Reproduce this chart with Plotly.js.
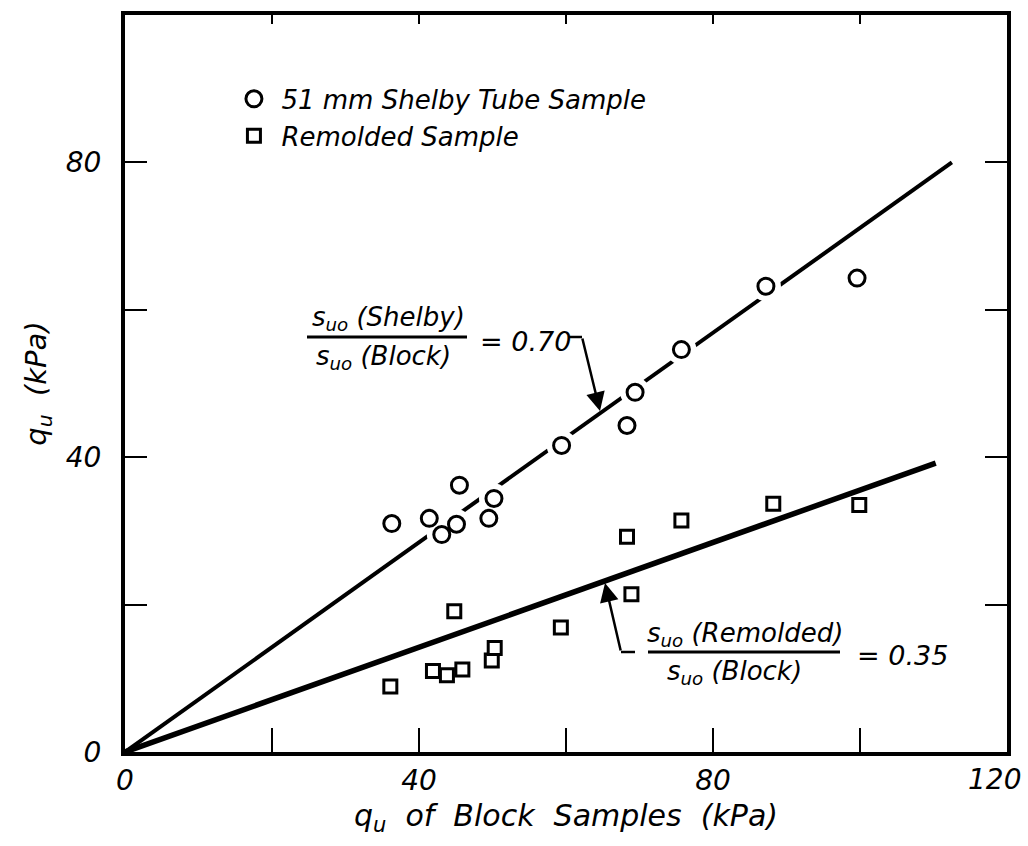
<!DOCTYPE html>
<html>
<head>
<meta charset="utf-8">
<script src="https://cdn.plot.ly/plotly-3.0.1.min.js"></script>
<style>html,body{margin:0;padding:0;background:#fff;}#chart{width:1028px;height:846px;}</style>
</head>
<body>
<div id="chart"></div>
<script>
// ---- data ----
const shelbyX = [36.3, 41.4, 45.5, 43.1, 45.1, 50.2, 49.5, 59.4, 69.4, 68.3, 75.7, 87.2, 99.6];
const shelbyY = [31.0, 31.7, 36.2, 29.5, 30.9, 34.4, 31.7, 41.6, 48.8, 44.3, 54.6, 63.2, 64.3];
const remoldX = [36.1, 44.8, 41.9, 43.8, 45.9, 49.9, 50.3, 59.3, 68.3, 75.7, 68.9, 88.2, 99.9];
const remoldY = [8.9, 19.1, 11.0, 10.4, 11.2, 12.4, 14.1, 16.9, 29.2, 31.4, 21.4, 33.7, 33.5];
const shelbyFitX = [0, 112.5];
const shelbyFitY = [0, 80];
const remoldFitX = [0, 110.3];
const remoldFitY = [0, 39.2];
const xTickVals = [0, 20, 40, 60, 80, 100, 120];
const xTickText = ['0', '', '40', '', '80', '', ''];
const xEndLabel = '120'; // drawn as an annotation so it is not cut off at the page edge
const yTickVals = [0, 20, 40, 60, 80, 100];
const yTickText = ['0', '', '40', '', '80', ''];
const legendNames = ['51 mm Shelby Tube Sample', 'Remolded Sample'];

// ---- layout helpers (pixel -> data for annotation placement) ----
const W = 1028, H = 846, ML = 125, MR = 21, MT = 15, MB = 94;
const PW = W - ML - MR, PH = H - MT - MB;
const px2x = p => (p - ML) / PW * 120;
const px2y = p => (H - MB - p) / PH * 100;

const FONT = {family: 'DejaVu Sans', color: '#000', style: 'italic'};
const f = (size) => Object.assign({}, FONT, {size: size});

const traces = [
  {x: shelbyFitX, y: shelbyFitY, mode: 'lines', line: {color: '#000', width: 4}, showlegend: false, hoverinfo: 'skip'},
  {x: remoldFitX, y: remoldFitY, mode: 'lines', line: {color: '#000', width: 5.5}, showlegend: false, hoverinfo: 'skip'},
  // white halo so the fit line breaks around the circles
  {x: shelbyX, y: shelbyY, mode: 'markers', marker: {symbol: 'circle', size: 30, color: '#fff', line: {width: 0}}, showlegend: false, hoverinfo: 'skip'},
  {x: remoldX, y: remoldY, mode: 'markers', name: legendNames[1],
   marker: {symbol: 'square', size: 13, color: '#fff', line: {color: '#000', width: 3}}},
  {x: shelbyX, y: shelbyY, mode: 'markers', name: legendNames[0],
   marker: {symbol: 'circle', size: 16, color: '#fff', line: {color: '#000', width: 3}}}
];

const shapes = [
  // fraction bars
  {type: 'line', xref: 'x', yref: 'y', x0: px2x(307), x1: px2x(467), y0: px2y(337), y1: px2y(337), line: {color: '#000', width: 3}},
  {type: 'line', xref: 'x', yref: 'y', x0: px2x(648), x1: px2x(840), y0: px2y(652), y1: px2y(652), line: {color: '#000', width: 3}},
  // leader tails
  {type: 'line', xref: 'x', yref: 'y', x0: px2x(569), x1: px2x(582), y0: px2y(337), y1: px2y(337), line: {color: '#000', width: 2.5}},
  {type: 'line', xref: 'x', yref: 'y', x0: px2x(635), x1: px2x(621), y0: px2y(652), y1: px2y(652), line: {color: '#000', width: 2.5}}
];

const annotations = [
  {x: px2x(388), y: px2y(318), xref: 'x', yref: 'y', text: 's<sub>uo</sub> (Shelby)', showarrow: false, font: f(26), xanchor: 'center', yanchor: 'middle'},
  {x: px2x(383), y: px2y(357), xref: 'x', yref: 'y', text: 's<sub>uo</sub> (Block)', showarrow: false, font: f(26), xanchor: 'center', yanchor: 'middle'},
  {x: px2x(478), y: px2y(341), xref: 'x', yref: 'y', text: '= 0.70', showarrow: false, font: f(27), xanchor: 'left', yanchor: 'middle'},
  {x: px2x(745), y: px2y(634), xref: 'x', yref: 'y', text: 's<sub>uo</sub> (Remolded)', showarrow: false, font: f(26), xanchor: 'center', yanchor: 'middle'},
  {x: px2x(734), y: px2y(672), xref: 'x', yref: 'y', text: 's<sub>uo</sub> (Block)', showarrow: false, font: f(26), xanchor: 'center', yanchor: 'middle'},
  {x: px2x(855), y: px2y(655), xref: 'x', yref: 'y', text: '= 0.35', showarrow: false, font: f(27), xanchor: 'left', yanchor: 'middle'},
  // end tick label of the x axis
  {x: 120, y: 0, xref: 'x', yref: 'y', text: xEndLabel, showarrow: false, font: f(28), xanchor: 'right', yanchor: 'middle',
   xshift: 16, yshift: -27},
  // arrows
  {x: px2x(600), y: px2y(411), xref: 'x', yref: 'y', text: '', showarrow: true, ax: -18, ay: -74,
   arrowhead: 2, arrowsize: 1.5, arrowwidth: 2.5, arrowcolor: '#000', standoff: 0, startstandoff: 0},
  {x: px2x(605), y: px2y(583), xref: 'x', yref: 'y', text: '', showarrow: true, ax: 16, ay: 69,
   arrowhead: 2, arrowsize: 1.5, arrowwidth: 2.5, arrowcolor: '#000', standoff: 0, startstandoff: 0}
];

const layout = {
  width: W, height: H,
  margin: {l: ML, r: MR, t: MT, b: MB, pad: 0},
  paper_bgcolor: '#fff', plot_bgcolor: '#fff',
  showlegend: true,
  legend: {x: 0.115, y: 0.918, xanchor: 'left', yanchor: 'top', bgcolor: 'rgba(0,0,0,0)',
           font: f(26), traceorder: 'reversed', borderwidth: 0, itemwidth: 45},
  xaxis: {range: [0, 120], tickvals: xTickVals, ticktext: xTickText, ticks: 'inside', ticklen: 24, tickwidth: 2,
          tickcolor: '#000', showline: true, linewidth: 4, linecolor: '#000', mirror: true, showgrid: false,
          zeroline: false, tickfont: f(28), ticklabelstandoff: 0,
          title: {text: 'q<sub>u</sub>  of  Block  Samples  (kPa)', font: f(30), standoff: 10}},
  xaxis2: {range: [0, 120], overlaying: 'x', side: 'top', tickvals: xTickVals, ticks: 'inside', ticklen: 9, tickwidth: 2,
           tickcolor: '#000', showticklabels: false, showgrid: false, zeroline: false, showline: false},
  yaxis: {range: [0, 100], tickvals: yTickVals, ticktext: yTickText, ticks: 'inside', ticklen: 22, tickwidth: 2,
          tickcolor: '#000', showline: true, linewidth: 4, linecolor: '#000', mirror: 'ticks', showgrid: false,
          zeroline: false, tickfont: f(28), ticklabelstandoff: 14,
          title: {text: 'q<sub>u</sub>  (kPa)', font: f(29), standoff: 12}},
  shapes: shapes,
  annotations: annotations
};

// invisible helper trace that activates the short top-edge ticks
traces.push({x: [0, 120], y: [-10, -10], mode: 'markers', marker: {opacity: 0}, xaxis: 'x2', yaxis: 'y', showlegend: false, hoverinfo: 'skip'});

Plotly.newPlot('chart', traces, layout, {staticPlot: true});
</script>
</body>
</html>
